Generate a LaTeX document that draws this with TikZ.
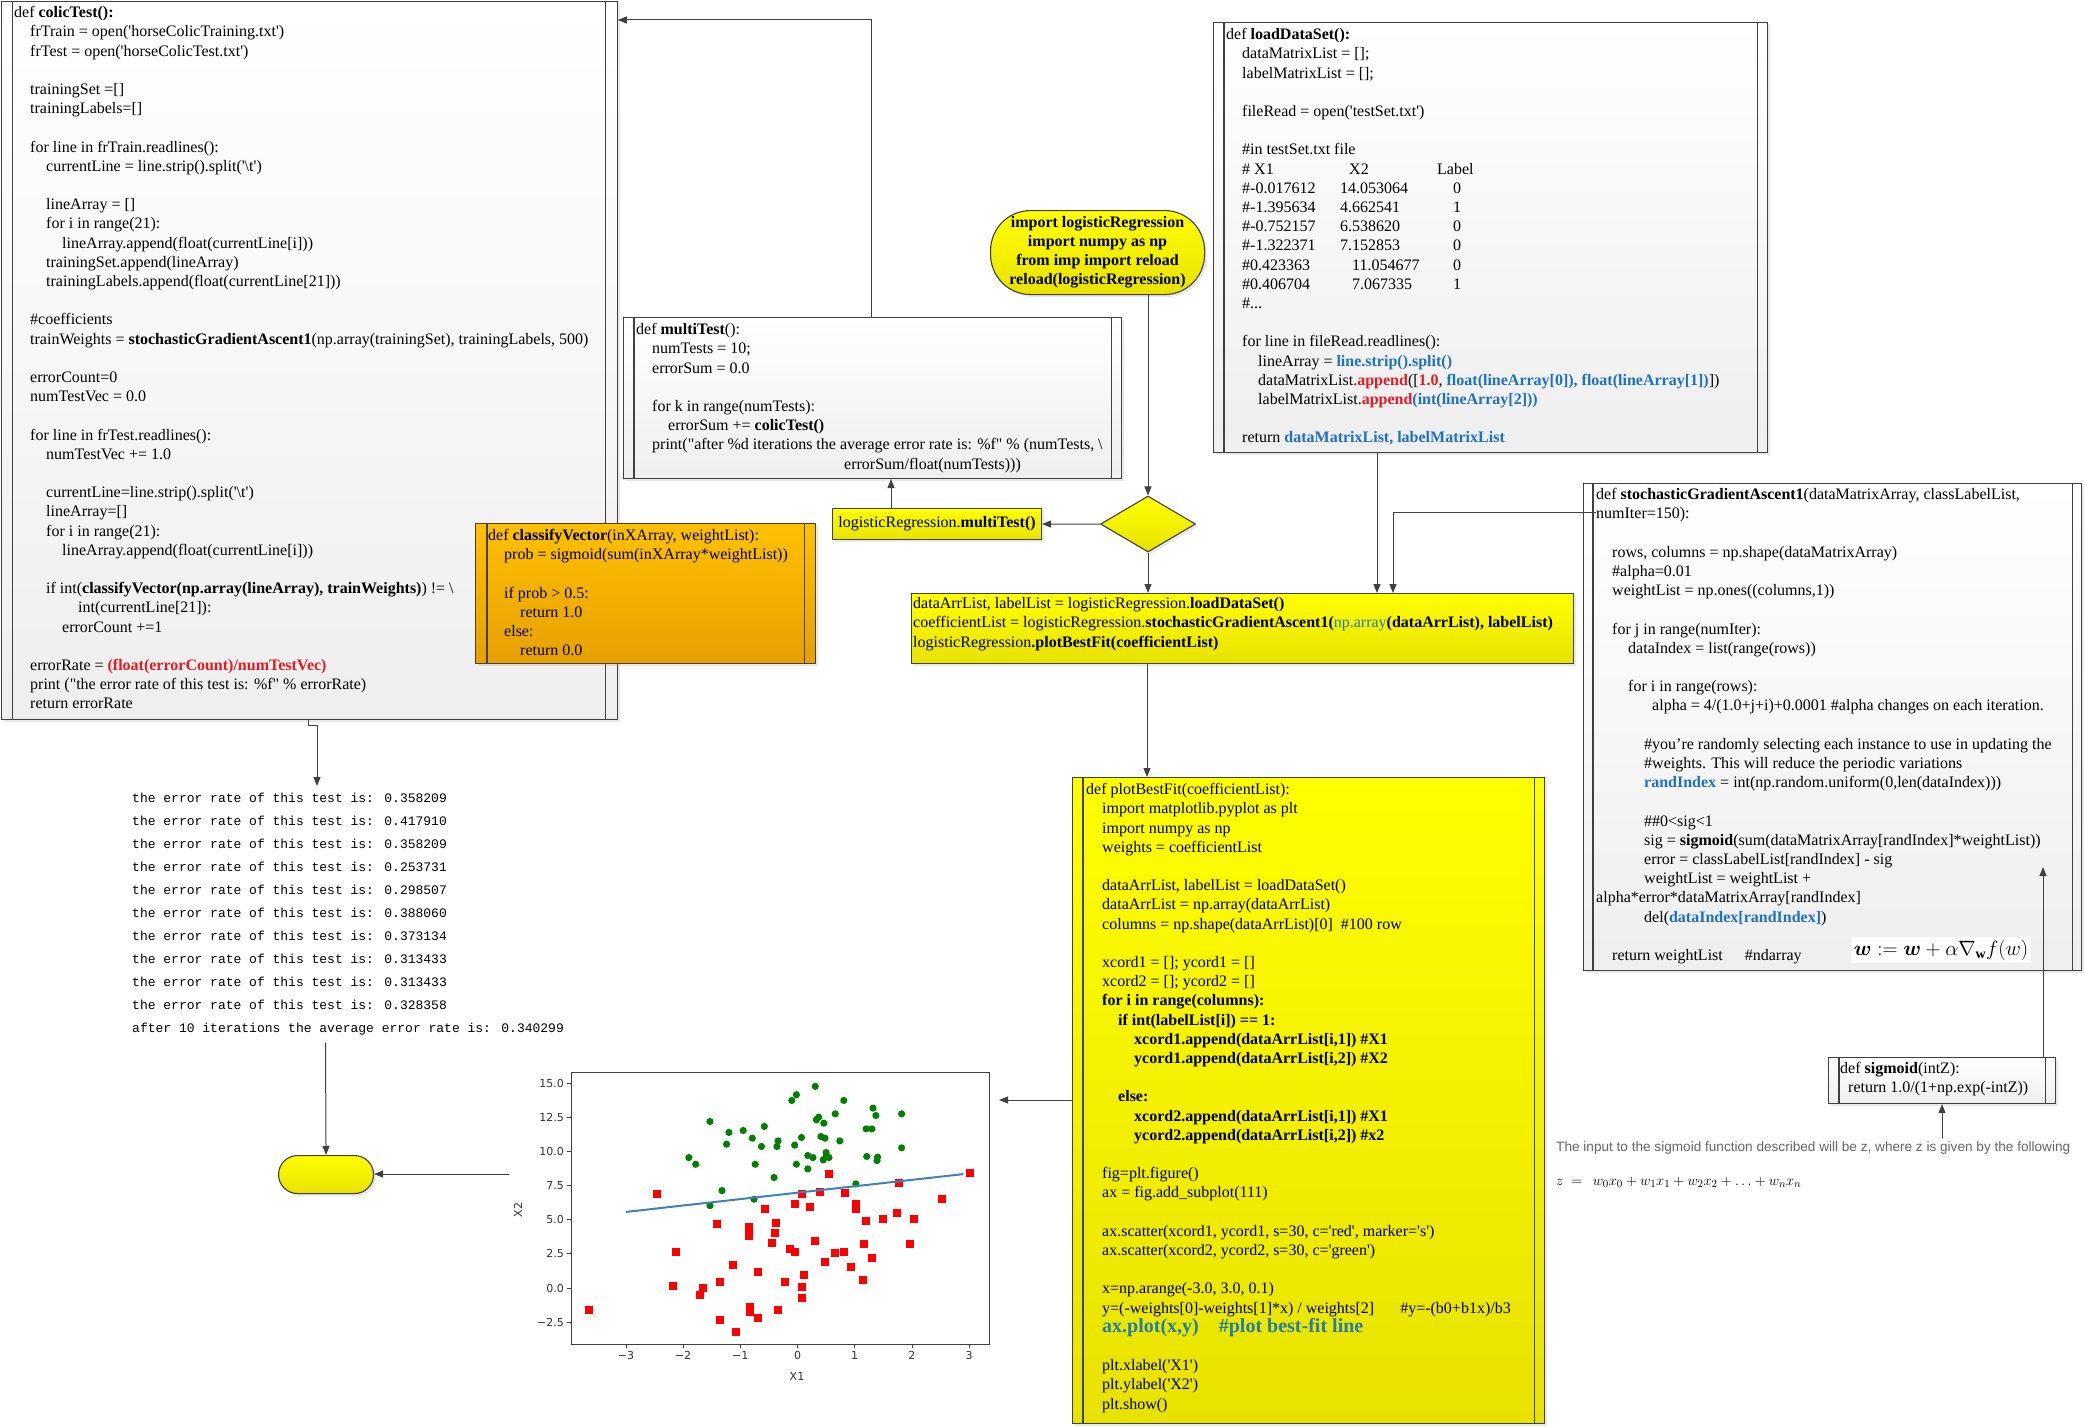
\documentclass[tikz,border=0pt]{standalone}
\usepackage{amsmath}
\usepackage{fontspec}
\setmainfont{Liberation Serif}[Ligatures=TeXOff]
\newfontfamily\sansf{Liberation Sans}
\newfontfamily\monof{Liberation Mono}
\newfontfamily\plotf{DejaVu Sans}
\usetikzlibrary{arrows.meta,shapes.geometric,shadows}
\definecolor{linec}{RGB}{64,64,64}
\definecolor{codered}{RGB}{230,25,35}
\definecolor{codeblue}{RGB}{30,112,192}
\definecolor{tealc}{RGB}{35,125,165}
\definecolor{yel}{RGB}{255,255,0}
\definecolor{yeldark}{RGB}{232,226,0}
\definecolor{orgtop}{RGB}{255,192,0}
\definecolor{orgbot}{RGB}{230,160,0}
\definecolor{pgreen}{RGB}{0,128,0}
\definecolor{pred}{RGB}{255,0,0}
\definecolor{pblue}{RGB}{60,130,190}
\newcommand{\indA}{\hspace*{16pt}}
\newcommand{\indB}{\hspace*{32pt}}
\newcommand{\indC}{\hspace*{48pt}}
\newcommand{\indD}{\hspace*{64pt}}
\newcommand{\bsl}{\textbackslash}
\newcommand{\cRed}[1]{\textcolor{codered}{\textbf{#1}}}
\newcommand{\cBlue}[1]{\textcolor{codeblue}{\textbf{#1}}}
\newcommand{\sidebars}[2]{%
  \draw[boxline] ([xshift=#2]#1.north west) -- ([xshift=#2]#1.south west);
  \draw[boxline] ([xshift=-#2]#1.north east) -- ([xshift=-#2]#1.south east);}
\tikzset{
  boxline/.style={draw=linec, line width=1.1pt},
  graybox/.style={boxline, top color=white, bottom color=gray!13, anchor=north west, inner sep=0pt,
    drop shadow={shadow xshift=2.5pt, shadow yshift=-2.5pt, opacity=0.18}},
  yelbox/.style={graybox, top color=yel, bottom color=yeldark},
  orgbox/.style={graybox, top color=orgtop, bottom color=orgbot},
  codetext/.style={anchor=north west, inner sep=0pt, align=left, font=\fontsize{16}{19.2}\selectfont},
  conn/.style={draw=linec, line width=1pt, -{Triangle[length=9pt,width=7pt]}},
  ticklab/.style={font=\plotf\fontsize{11}{13}\selectfont, text=black!80, inner sep=0pt},
}
\begin{document}
\begin{tikzpicture}[x=1pt,y=-1pt]
\fill[white] (0,0) rectangle (2084,1426);
\useasboundingbox (0,0) rectangle (2084,1426);

% ---------------- colicTest
\node[graybox, minimum width=616pt, minimum height=718pt] (colic) at (0.7,0.7) {};
\sidebars{colic}{12pt}
\node[codetext] (colicT) at (14,4) {\strut def \textbf{colicTest():}\\
\indA frTrain = open('horseColicTraining.txt')\\
\indA frTest = open('horseColicTest.txt')\\
\mbox{}\\
\indA trainingSet =[]\\
\indA trainingLabels=[]\\
\mbox{}\\
\indA for line in frTrain.readlines():\\
\indB currentLine = line.strip().split('\bsl t')\\
\mbox{}\\
\indB lineArray = []\\
\indB for i in range(21):\\
\indC lineArray.append(float(currentLine[i]))\\
\indB trainingSet.append(lineArray)\\
\indB trainingLabels.append(float(currentLine[21]))\\
\mbox{}\\
\indA \#coefficients\\
\indA trainWeights = \textbf{stochasticGradientAscent1}(np.array(trainingSet), trainingLabels, 500)\\
\mbox{}\\
\indA errorCount=0\\
\indA numTestVec = 0.0\\
\mbox{}\\
\indA for line in frTest.readlines():\\
\indB numTestVec += 1.0\\
\mbox{}\\
\indB currentLine=line.strip().split('\bsl t')\\
\indB lineArray=[]\\
\indB for i in range(21):\\
\indC lineArray.append(float(currentLine[i]))\\
\mbox{}\\
\indB if int(\textbf{classifyVector(np.array(lineArray), trainWeights)}) != \bsl\\
\indD int(currentLine[21]):\\
\indC errorCount +=1\\
\mbox{}\\
\indA errorRate = \cRed{(float(errorCount)/numTestVec)}\\
\indA print ("the error rate of this test is: \%f" \% errorRate)\\
\indA return errorRate};

% ---------------- multiTest
\node[graybox, minimum width=498pt, minimum height=161pt] (multiT) at (623,317) {};
\sidebars{multiT}{11pt}
\node[codetext] (multiTT) at (636,321) {\strut def \textbf{multiTest}():\\
\indA numTests = 10;\\
\indA errorSum = 0.0\\
\mbox{}\\
\indA for k in range(numTests):\\
\indB errorSum += \textbf{colicTest()}\\
\indA print("after \%d iterations the average error rate is: \%f" \% (numTests, \bsl\\
\hspace*{208pt}errorSum/float(numTests)))};

% ---------------- classifyVector
\node[orgbox, minimum width=340pt, minimum height=140pt] (classV) at (475,523) {};
\sidebars{classV}{12pt}
\node[codetext] (classVT) at (488,527) {\strut def \textbf{classifyVector}(inXArray, weightList):\\
\indA prob = sigmoid(sum(inXArray*weightList))\\
\mbox{}\\
\indA if prob > 0.5:\\
\indB return 1.0\\
\indA else:\\
\indB return 0.0};

% ---------------- loadDataSet
\node[graybox, minimum width=554pt, minimum height=430pt] (loadDS) at (1213,22) {};
\sidebars{loadDS}{11pt}
\node[codetext] (loadT) at (1226,26) {\strut def \textbf{loadDataSet():}\\
\indA dataMatrixList = [];\\
\indA labelMatrixList = [];\\
\mbox{}\\
\indA fileRead = open('testSet.txt')\\
\mbox{}\\
\indA \#in testSet.txt file\\
\indA \rlap{\# X1}\hspace*{107pt}\rlap{X2}\hspace*{88pt}Label\\
\indA \rlap{\#-0.017612}\hspace*{98pt}\rlap{14.053064}\hspace*{113pt}0\\
\indA \rlap{\#-1.395634}\hspace*{98pt}\rlap{4.662541}\hspace*{113pt}1\\
\indA \rlap{\#-0.752157}\hspace*{98pt}\rlap{6.538620}\hspace*{113pt}0\\
\indA \rlap{\#-1.322371}\hspace*{98pt}\rlap{7.152853}\hspace*{113pt}0\\
\indA \rlap{\#0.423363}\hspace*{110pt}\rlap{11.054677}\hspace*{101pt}0\\
\indA \rlap{\#0.406704}\hspace*{110pt}\rlap{7.067335}\hspace*{101pt}1\\
\indA \#...\\
\mbox{}\\
\indA for line in fileRead.readlines():\\
\indB lineArray = \cBlue{line.strip().split()}\\
\indB dataMatrixList.\cRed{append}([\cRed{1.0}, \cBlue{float(lineArray[0]), float(lineArray[1])}])\\
\indB labelMatrixList.\cRed{append}\cBlue{(int(lineArray[2]))}\\
\mbox{}\\
\indA return \cBlue{dataMatrixList, labelMatrixList}};

% ---------------- stochasticGradientAscent1
\node[graybox, minimum width=498pt, minimum height=487pt] (sga) at (1583,483) {};
\sidebars{sga}{10pt}
\node[codetext] (sgaT) at (1596,486) {\strut def \textbf{stochasticGradientAscent1}(dataMatrixArray, classLabelList,\\
numIter=150):\\
\mbox{}\\
\indA rows, columns = np.shape(dataMatrixArray)\\
\indA \#alpha=0.01\\
\indA weightList = np.ones((columns,1))\\
\mbox{}\\
\indA for j in range(numIter):\\
\indB dataIndex = list(range(rows))\\
\mbox{}\\
\indB for i in range(rows):\\
\hspace*{56pt}alpha = 4/(1.0+j+i)+0.0001 \#alpha changes on each iteration.\\
\mbox{}\\
\indC \#you’re randomly selecting each instance to use in updating the\\
\indC \#weights. This will reduce the periodic variations\\
\indC \cBlue{randIndex} = int(np.random.uniform(0,len(dataIndex)))\\
\mbox{}\\
\indC \#\#0<sig<1\\
\indC sig = \textbf{sigmoid}(sum(dataMatrixArray[randIndex]*weightList))\\
\indC error = classLabelList[randIndex] - sig\\
\indC weightList = weightList +\\
alpha*error*dataMatrixArray[randIndex]\\
\indC del(\cBlue{dataIndex[randIndex]})\\
\mbox{}\\
\indA return weightList\hspace*{22pt}\#ndarray};
\node[fill=white, inner sep=3pt, font=\fontsize{20}{24}\selectfont] (wupd) at (1941,950)
  {$\boldsymbol{w} :=\boldsymbol{w} + \alpha\nabla_{\mathbf{w}} f(w)$};

% ---------------- sigmoid
\node[graybox, minimum width=227pt, minimum height=46pt] (sig) at (1828,1057) {};
\sidebars{sig}{11pt}
\node[codetext] (sigT) at (1840,1060) {\strut def \textbf{sigmoid}(intZ):\\
\hspace*{8pt}return 1.0/(1+np.exp(-intZ))};
\node[anchor=west, inner sep=0pt, font=\sansf\fontsize{13.6}{15}\selectfont, text=black!60] (inputT) at (1556,1148)
  {The input to the sigmoid function described will be z, where z is given by the following};
\node[anchor=west, inner sep=0pt, font=\fontsize{15}{17}\selectfont] (zform) at (1556,1182)
  {$z\;=\;\,w_0x_0+w_1x_1+w_2x_2+\ldots+w_nx_n$};

% ---------------- flow shapes
\node[yelbox, rounded corners=40pt, minimum width=214pt, minimum height=84pt, align=center,
  font=\bfseries\fontsize{16}{19}\selectfont] (oval) at (990,210)
  {import logisticRegression\\import numpy as np\\from imp import reload\\reload(logisticRegression)};
\node[diamond, draw=linec, line width=1.1pt, top color=yel, bottom color=yeldark, inner sep=0pt,
  minimum width=95pt, minimum height=56pt, drop shadow={shadow xshift=2.5pt, shadow yshift=-2.5pt, opacity=0.18}] (dia) at (1148,524) {};
\node[yelbox, minimum width=209pt, minimum height=31pt, font=\fontsize{16}{19.2}\selectfont] (callB) at (832,508)
  {logisticRegression.\textbf{multiTest()}};
\node[yelbox, minimum width=662pt, minimum height=70pt] (mainB) at (911,593) {};
\node[codetext] (mainT) at (913,595) {\strut dataArrList, labelList = logisticRegression.\textbf{loadDataSet()}\\
coefficientList = logisticRegression.\textbf{stochasticGradientAscent1(}\textcolor{tealc}{np.array}\textbf{(dataArrList), labelList)}\\
logisticRegression\textbf{.plotBestFit(coefficientList)}};

% ---------------- plotBestFit
\node[yelbox, minimum width=472pt, minimum height=646pt] (pbf) at (1072,777) {};
\sidebars{pbf}{11pt}
\node[codetext] (pbfT) at (1086,781) {\strut def plotBestFit(coefficientList):\\
\indA import matplotlib.pyplot as plt\\
\indA import numpy as np\\
\indA weights = coefficientList\\
\mbox{}\\
\indA dataArrList, labelList = loadDataSet()\\
\indA dataArrList = np.array(dataArrList)\\
\indA columns = np.shape(dataArrList)[0]\hspace*{8pt}\#100 row\\
\mbox{}\\
\indA xcord1 = []; ycord1 = []\\
\indA xcord2 = []; ycord2 = []\\
\indA \textbf{for i in range(columns):}\\
\indB \textbf{if int(labelList[i]) == 1:}\\
\indC \textbf{xcord1.append(dataArrList[i,1]) \#X1}\\
\indC \textbf{ycord1.append(dataArrList[i,2]) \#X2}\\
\mbox{}\\
\indB \textbf{else:}\\
\indC \textbf{xcord2.append(dataArrList[i,1]) \#X1}\\
\indC \textbf{ycord2.append(dataArrList[i,2]) \#x2}\\
\mbox{}\\
\indA fig=plt.figure()\\
\indA ax = fig.add\_subplot(111)\\
\mbox{}\\
\indA ax.scatter(xcord1, ycord1, s=30, c='red', marker='s')\\
\indA ax.scatter(xcord2, ycord2, s=30, c='green')\\
\mbox{}\\
\indA x=np.arange(-3.0, 3.0, 0.1)\\
\indA y=(-weights[0]-weights[1]*x) / weights[2]\hspace*{26pt}\#y=-(b0+b1x)/b3\\
\indA {\fontsize{20}{19.2}\selectfont\color{tealc}\textbf{ax.plot(x,y)\hspace*{20pt}\#plot best-fit line}}\\
\mbox{}\\
\indA plt.xlabel('X1')\\
\indA plt.ylabel('X2')\\
\indA plt.show()};

% ---------------- console output
\node[anchor=north west, inner sep=0pt, align=left, font=\monof\fontsize{13}{23}\selectfont, text=black] (errs) at (132,786)
{\strut the error rate of this test is: 0.358209\\
the error rate of this test is: 0.417910\\
the error rate of this test is: 0.358209\\
the error rate of this test is: 0.253731\\
the error rate of this test is: 0.298507\\
the error rate of this test is: 0.388060\\
the error rate of this test is: 0.373134\\
the error rate of this test is: 0.313433\\
the error rate of this test is: 0.313433\\
the error rate of this test is: 0.328358\\
after 10 iterations the average error rate is: 0.340299};

\node[yelbox, rounded corners=19pt, minimum width=95pt, minimum height=38pt] (term) at (278,1155) {};

% ---------------- scatter plot
\node[draw=black!75, line width=0.9pt, fill=white, minimum width=418pt, minimum height=272pt, anchor=north west, inner sep=0pt] (pframe) at (571,1072) {};
\begin{scope}[shift={(797.5,1288)}, x=57.2pt, y=13.66pt]
  \foreach \a/\b in {0.31/14.76,-0.02/14.15,-0.10/13.73,0.81/13.73,1.32/13.17,1.37/12.63,1.82/12.75,0.66/12.75,
    -1.53/12.19,0.33/12.31,0.37/12.51,0.46/12.07,-0.58/11.83,-0.95/11.53,-1.20/11.39,1.20/11.65,1.30/11.65,
    -0.79/10.97,0.07/11.02,0.41/11.09,0.48/10.97,-0.34/10.77,-0.36/10.36,0.74/10.77,-1.24/10.53,-0.63/10.36,
    -0.05/10.46,0.50/9.92,1.82/10.26,0.50/9.63,0.18/9.70,0.27/9.55,0.55/9.55,0.45/9.38,-1.90/9.55,1.21/9.63,
    1.40/9.58,1.39/9.33,-1.78/9.06,-0.74/9.06,-0.02/9.06,0.18/8.72,-0.41/8.09,1.02/7.62,-1.32/7.13,-0.76/6.50,-1.53/6.03}
    \fill[pgreen] (\a,\b) circle (3.6pt);
  \foreach \a/\b in {3.02/8.40,0.55/8.36,-2.46/6.87,0.08/6.87,0.40/7.04,0.83/6.96,1.78/7.72,-0.56/5.79,-0.04/6.13,
    0.22/5.96,1.02/5.79,1.03/6.16,2.52/6.50,-1.40/4.67,-0.85/4.50,-0.85/4.13,-0.85/3.84,-0.37/4.79,-0.39/4.06,
    1.19/4.94,1.50/5.03,1.74/5.52,2.03/5.03,-0.45/3.32,0.31/3.47,1.16/3.23,1.97/3.23,-2.13/2.66,-0.14/2.83,
    -0.04/2.66,0.66/2.59,0.81/2.66,1.31/2.20,-1.12/1.66,0.48/1.93,0.93/1.56,-0.69/1.20,0.11/0.93,-2.17/0.17,
    -1.65/0.02,-1.71/-0.54,-1.35/0.46,-0.21/0.46,0.07/0.10,0.07/-0.71,1.14/0.56,-3.64/-1.64,-0.83/-1.42,
    -0.83/-1.73,-0.34/-1.64,-0.69/-2.17,-1.35/-2.35,-1.07/-3.20}
    \fill[pred] ([xshift=-4pt,yshift=-4pt]\a,\b) rectangle ++(8pt,8pt);
  \draw[pblue, line width=2pt] (-3,5.57) -- (2.9,8.34);
  \foreach \t/\l [count=\i] in {-3/−3,-2/−2,-1/−1,0/0,1/1,2/2,3/3}{
    \draw[black!75, line width=0.8pt] (\t,-4.1) -- ++(0,-4pt);
    \node[ticklab, anchor=north] (xt\i) at ([yshift=-7pt]\t,-4.1) {\l};
  }
  \foreach \t/\l [count=\i] in {15/15.0,12.5/12.5,10/10.0,7.5/7.5,5/5.0,2.5/2.5,0/0.0,-2.5/−2.5}{
    \draw[black!75, line width=0.8pt] (-3.96,\t) -- ++(-4pt,0);
    \node[ticklab, anchor=east] (yt\i) at ([xshift=-7pt]-3.96,\t) {\l};
  }
\end{scope}
\node[ticklab] (xlab) at (797,1376) {X1};
\node[ticklab, rotate=90] (ylab) at (518,1210) {X2};

% ---------------- connectors
\coordinate (mtUp) at (871,20);
\draw[conn] (mtUp |- multiT.north) -- (mtUp) -- (colic.east |- mtUp);
\draw[conn] (oval.south -| dia.north) -- (dia.north);
\draw[conn] (dia.west) -- (callB.east);
\coordinate (cbUp) at (891,508);
\draw[conn] (cbUp) -- (cbUp |- multiT.south);
\draw[conn] (dia.south) -- (dia.south |- mainB.north);
\coordinate (ldDown) at (1377,452);
\draw[conn] (ldDown |- loadDS.south) -- (ldDown |- mainB.north);
\coordinate (sgaOut) at (1596,512);
\coordinate (sgaTurn) at (1393,512);
\draw[conn] (sgaOut) -- (sgaTurn) -- (sgaTurn |- mainB.north);
\coordinate (midX) at (1147,0);
\draw[conn] (mainB.south -| midX) -- (pbf.north -| midX);
\coordinate (plotR) at (999,1100);
\draw[conn] (pbf.west |- plotR) -- (plotR);
\coordinate (plotL) at (509,1174);
\draw[conn] (plotL) -- (term.east |- plotL);
\coordinate (jog) at (308,725);
\coordinate (errTop) at (317,786);
\draw[conn] (colic.south -| jog) -- (jog) -- (errTop |- jog) -- (errTop);
\coordinate (errEnd) at (325.5,1043);
\draw[conn] (errEnd) -- (term.north);
\coordinate (inTop) at (1942,1138);
\draw[conn] (inTop) -- (inTop |- sig.south);
\coordinate (sgaIn) at (2043,867);
\draw[conn] (sgaIn |- sig.north) -- (sgaIn);
\end{tikzpicture}
\end{document}
